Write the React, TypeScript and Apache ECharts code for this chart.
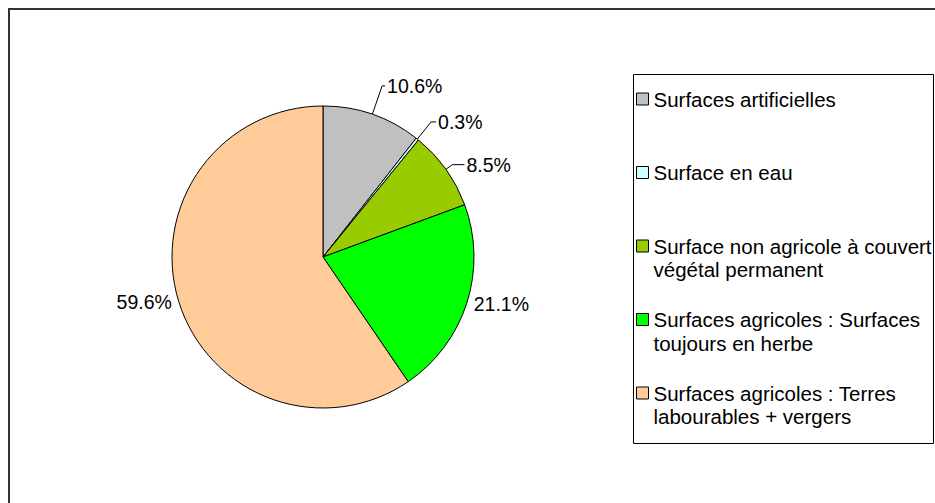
import React, { useEffect, useRef } from "react";
import * as echarts from "echarts";

// Land-use shares (%), clockwise from 12 o'clock
const categories = [
  "Surfaces artificielles",
  "Surface en eau",
  "Surface non agricole à couvert végétal permanent",
  "Surfaces agricoles : Surfaces toujours en herbe",
  "Surfaces agricoles : Terres labourables + vergers",
];
const shares = [10.6, 0.3, 8.5, 21.1, 59.6];
const colors = ["#C0C0C0", "#CCFFFF", "#99CC00", "#00FF00", "#FFCC99"];

// Legend wording, split on the lines it is shown on
const legendLines: string[][] = [
  ["Surfaces artificielles"],
  ["Surface en eau"],
  ["Surface non agricole à couvert", "végétal permanent"],
  ["Surfaces agricoles : Surfaces", "toujours en herbe"],
  ["Surfaces agricoles : Terres", "labourables + vergers"],
];

// Leader line lengths per slice [radial, horizontal]
const leaderLengths: [number, number][] = [
  [30, 3],
  [22, 5],
  [8, 12],
  [3, 2],
  [3, 2],
];
const leaderVisible = [true, true, true, false, false];

const FONT = "'Liberation Sans', Arial, sans-serif";

export default function App() {
  const ref = useRef<HTMLDivElement>(null);

  useEffect(() => {
    if (!ref.current) return;
    const chart = echarts.init(ref.current, undefined, { renderer: "svg" });

    const legendText: Record<string, string> = {};
    categories.forEach((c, i) => {
      const lines = legendLines[i];
      // pad to three lines so the swatch sits beside the first line
      legendText[c] = "\n" + lines[0] + "\n" + (lines[1] ?? "");
    });

    chart.setOption({
      animation: false,
      backgroundColor: "#ffffff",
      color: colors,
      graphic: [
        {
          // chart-area frame: only its top and left edges fall inside the view
          type: "polyline",
          shape: { points: [[1, 600], [1, 1], [1200, 1]] },
          style: { fill: "none", stroke: "#333333", lineWidth: 2 },
          silent: true,
        },
        {
          type: "rect",
          shape: { x: 625.5, y: 66.5, width: 300, height: 369 },
          style: { fill: "none", stroke: "#000000", lineWidth: 1 },
          silent: true,
        },
      ],
      legend: {
        orient: "vertical",
        left: 628,
        top: 55.75,
        padding: 0,
        itemGap: 3,
        itemWidth: 12,
        itemHeight: 12,
        icon: "rect",
        itemStyle: { borderColor: "#000000", borderWidth: 1 },
        data: categories,
        formatter: (name: string) => legendText[name] ?? name,
        textStyle: {
          fontFamily: FONT,
          fontSize: 20.5,
          lineHeight: 23.5,
          color: "#000000",
        },
        selectedMode: false,
      },
      series: [
        {
          type: "pie",
          center: [315, 249],
          radius: [0, 151],
          startAngle: 90,
          clockwise: true,
          avoidLabelOverlap: false,
          itemStyle: { borderColor: "#000000", borderWidth: 1 },
          emphasis: { disabled: true },
          label: {
            show: true,
            position: "outside",
            alignTo: "none",
            distanceToLabelLine: 2,
            fontFamily: FONT,
            fontSize: 19.5,
            color: "#000000",
            formatter: (p: any) => `${Number(p.value).toFixed(1)}%`,
          },
          labelLine: {
            show: true,
            lineStyle: { color: "#000000", width: 1 },
          },
          data: categories.map((name, i) => ({
            name,
            value: shares[i],
            labelLine: {
              show: leaderVisible[i],
              length: leaderLengths[i][0],
              length2: leaderLengths[i][1],
            },
          })),
        },
      ],
    });

    return () => chart.dispose();
  }, []);

  // fixed so the chart can run to the window edge without making the page scroll
  return (
    <div
      ref={ref}
      style={{ position: "fixed", left: 8, top: 8, width: 927, height: 495 }}
    />
  );
}
